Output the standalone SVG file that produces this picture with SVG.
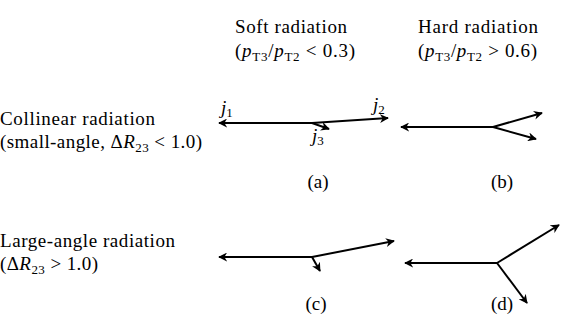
<svg xmlns="http://www.w3.org/2000/svg" width="581" height="327" viewBox="0 0 581 327">
<style>
text{font-family:"Liberation Serif","DejaVu Serif",serif;font-size:19px;fill:#000}
.i{font-style:italic}
.s{font-size:13px}
.c{text-anchor:middle}
.ln{stroke:#000;stroke-width:2;fill:none;marker-end:url(#ah)}
</style>
<defs>
<marker id="ah" viewBox="0 0 10 10" refX="9" refY="5" markerWidth="4.5" markerHeight="4.5" orient="auto" markerUnits="strokeWidth">
<path d="M0,0 L10,5 L0,10 L3,5 Z" fill="#000"/>
</marker>
</defs>
<g id="headers">
<text x="235" y="33" textLength="112" lengthAdjust="spacing">Soft radiation</text>
<text x="235" y="57" textLength="120" lengthAdjust="spacing">(<tspan class="i">p</tspan><tspan class="s" dy="4">T3</tspan><tspan dy="-4">/</tspan><tspan class="i">p</tspan><tspan class="s" dy="4">T2</tspan><tspan dy="-4"> &lt; 0.3)</tspan></text>
<text x="418" y="33" textLength="120" lengthAdjust="spacing">Hard radiation</text>
<text x="418" y="57" textLength="119" lengthAdjust="spacing">(<tspan class="i">p</tspan><tspan class="s" dy="4">T3</tspan><tspan dy="-4">/</tspan><tspan class="i">p</tspan><tspan class="s" dy="4">T2</tspan><tspan dy="-4"> &gt; 0.6)</tspan></text>
</g>
<g id="rowlabels">
<text x="0" y="125" textLength="155" lengthAdjust="spacing">Collinear radiation</text>
<text x="0" y="148" textLength="202" lengthAdjust="spacing">(small-angle, Δ<tspan class="i">R</tspan><tspan class="s" dy="4">23</tspan><tspan dy="-4"> &lt; 1.0)</tspan></text>
<text x="0" y="247" textLength="175" lengthAdjust="spacing">Large-angle radiation</text>
<text x="0" y="270" textLength="98" lengthAdjust="spacing">(Δ<tspan class="i">R</tspan><tspan class="s" dy="4">23</tspan><tspan dy="-4"> &gt; 1.0)</tspan></text>
</g>
<g id="connectors">
<g id="panel-a">
<line class="ln" x1="312" y1="123" x2="219" y2="123"/>
<line class="ln" x1="312" y1="123" x2="388" y2="118"/>
<line class="ln" x1="312" y1="123" x2="329" y2="129"/>
</g>
<g id="panel-b">
<line class="ln" x1="493" y1="127" x2="401" y2="127"/>
<line class="ln" x1="493" y1="127" x2="542" y2="113"/>
<line class="ln" x1="493" y1="127" x2="536" y2="139"/>
</g>
<g id="panel-c">
<line class="ln" x1="312" y1="257" x2="219" y2="257"/>
<line class="ln" x1="312" y1="257" x2="394" y2="241"/>
<line class="ln" x1="312" y1="257" x2="320" y2="271"/>
</g>
<g id="panel-d">
<line class="ln" x1="497" y1="263" x2="405" y2="263"/>
<line class="ln" x1="497" y1="263" x2="559" y2="225"/>
<line class="ln" x1="497" y1="263" x2="527" y2="303"/>
</g>
</g>
<g id="jetlabels">
<text class="i" x="221" y="114">j<tspan class="s" style="font-style:normal" dy="3">1</tspan></text>
<text class="i" x="373" y="111">j<tspan class="s" style="font-style:normal" dy="3">2</tspan></text>
<text class="i" x="312" y="142">j<tspan class="s" style="font-style:normal" dy="3">3</tspan></text>
</g>
<g id="captions">
<text class="c" x="318" y="188">(a)</text>
<text class="c" x="502" y="188">(b)</text>
<text class="c" x="316" y="310">(c)</text>
<text class="c" x="502" y="310">(d)</text>
</g>
</svg>
